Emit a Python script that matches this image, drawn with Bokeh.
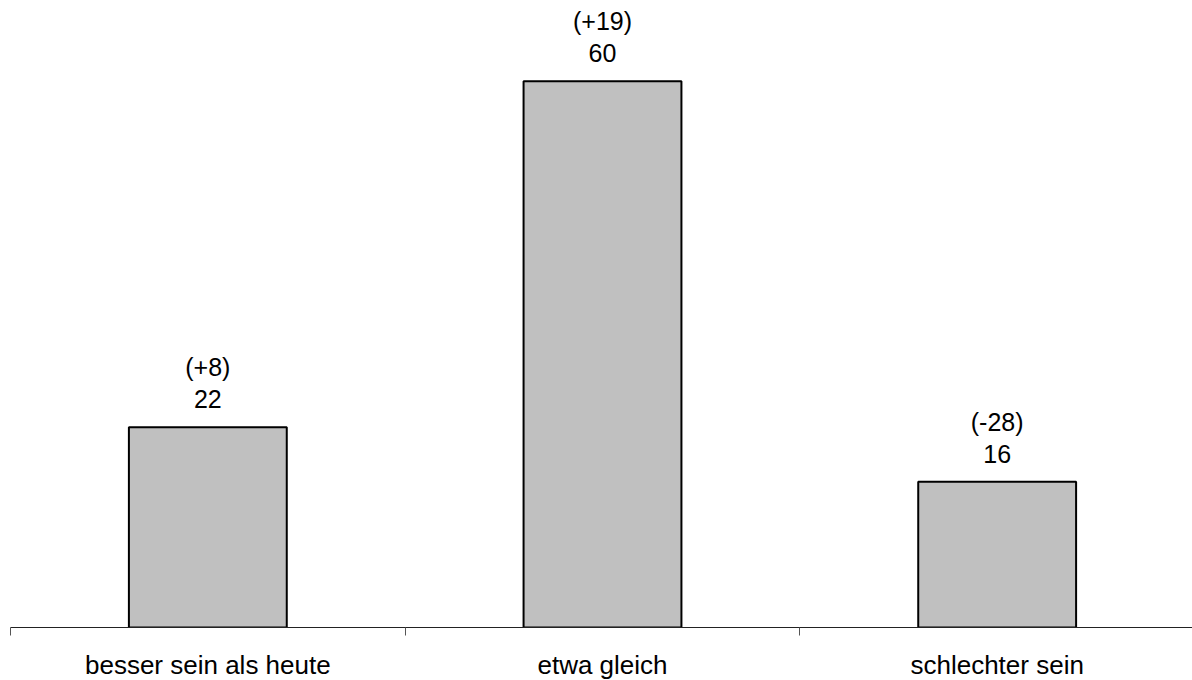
from bokeh.plotting import figure
from bokeh.models import ColumnDataSource, FixedTicker, Range1d
from bokeh.core.properties import value
from bokeh.embed import file_html
from bokeh.resources import INLINE

categories = ["besser sein als heute", "etwa gleich", "schlechter sein"]
values = [22, 60, 16]
changes = ["(+8)", "(+19)", "(-28)"]

xpos = [i + 0.5 for i in range(len(categories))]
src = ColumnDataSource(dict(x=xpos, top=values, val=[str(v) for v in values], chg=changes))

FONT = "Liberation Sans"

p = figure(frame_width=1184, frame_height=619, output_backend="svg", toolbar_location=None,
           x_range=Range1d(0, len(categories)), y_range=Range1d(0, 68),
           min_border_left=10, min_border_right=0, min_border_top=8, min_border_bottom=0)
p.outline_line_color = None
p.xgrid.visible = False
p.ygrid.visible = False
p.yaxis.visible = False

p.vbar(x="x", top="top", width=0.40, bottom=0, source=src,
       fill_color="#c0c0c0", line_color="black", line_width=2)

p.text(x="x", y="top", text="val", source=src, y_offset=-28,
       text_align="center", text_baseline="alphabetic",
       text_font=value(FONT), text_font_size="25px", text_color="black")
p.text(x="x", y="top", text="chg", source=src, y_offset=-60,
       text_align="center", text_baseline="alphabetic",
       text_font=value(FONT), text_font_size="25px", text_color="black")

ax = p.xaxis[0]
ax.ticker = FixedTicker(ticks=xpos, minor_ticks=list(range(len(categories) + 1)))
ax.major_label_overrides = {x: c for x, c in zip(xpos, categories)}
ax.major_tick_out = 0
ax.major_tick_in = 0
ax.minor_tick_out = 8
ax.minor_tick_in = 0
ax.minor_tick_line_color = "#555555"
ax.axis_line_color = "#222222"
ax.axis_line_width = 1
ax.major_label_standoff = 14
ax.major_label_text_font = FONT
ax.major_label_text_font_size = "26px"
ax.major_label_text_color = "black"

open("out.html", "w").write(file_html(p, INLINE))
